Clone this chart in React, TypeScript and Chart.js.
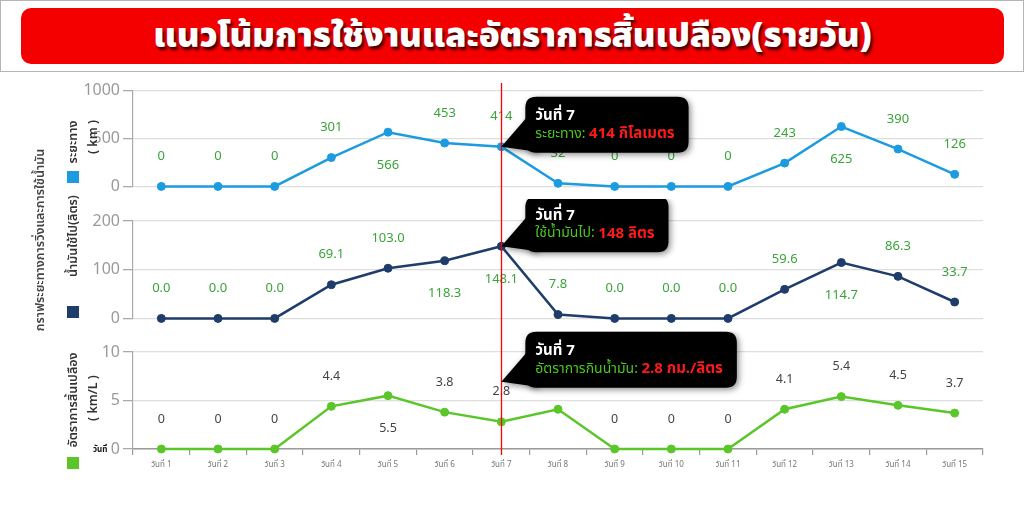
import React, { useEffect, useRef } from "react";
import { Chart, registerables } from "chart.js";

Chart.register(...registerables);

// ---------------- data ----------------
const days = [
  "วันที่ 1", "วันที่ 2", "วันที่ 3", "วันที่ 4", "วันที่ 5",
  "วันที่ 6", "วันที่ 7", "วันที่ 8", "วันที่ 9", "วันที่ 10",
  "วันที่ 11", "วันที่ 12", "วันที่ 13", "วันที่ 14", "วันที่ 15",
];
const distanceKm = [0, 0, 0, 301, 566, 453, 414, 32, 0, 0, 0, 243, 625, 390, 126];
const fuelLitres = [0, 0, 0, 69.1, 103.0, 118.3, 148.1, 7.8, 0, 0, 0, 59.6, 114.7, 86.3, 33.7];
const rateKmPerL = [0, 0, 0, 4.4, 5.5, 3.8, 2.8, 4.1, 0, 0, 0, 4.1, 5.4, 4.5, 3.7];

const distanceAxis = { min: 0, max: 1000, step: 500 };
const fuelAxis = { min: 0, max: 200, step: 100 };
const rateAxis = { min: 0, max: 10, step: 5 };

// indices whose value label sits under the point
const distanceLabelsBelow = [4, 12];
const fuelLabelsBelow = [5, 6, 12];
const rateLabelsBelow = [4];

const highlightIndex = 6; // วันที่ 7

const TITLE = "แนวโน้มการใช้งานและอัตราการสิ้นเปลือง(รายวัน)";
const SIDE_TITLE = "กราฟระยะทางการวิ่งและการใช้น้ำมัน";

const FONT = "'Noto Sans', 'Noto Sans Thai', 'DejaVu Sans', sans-serif";

type PanelCfg = {
  values: number[];
  color: string;
  axis: { min: number; max: number; step: number };
  labelColor: string;
  labelFont: string;
  format: (v: number) => string;
  below: number[];
  padTop: number;
  padBottom: number;
  showX: boolean;
  xHeight: number;
  lineTop: number;
  lineBottom: number | null;
  tipDy: number;
  tipLabel: string;
  tipValue: string;
};

function roundRect(ctx: CanvasRenderingContext2D, x: number, y: number, w: number, h: number, r: number) {
  ctx.beginPath();
  ctx.moveTo(x + r, y);
  ctx.lineTo(x + w - r, y);
  ctx.quadraticCurveTo(x + w, y, x + w, y + r);
  ctx.lineTo(x + w, y + h - r);
  ctx.quadraticCurveTo(x + w, y + h, x + w - r, y + h);
  ctx.lineTo(x + r, y + h);
  ctx.quadraticCurveTo(x, y + h, x, y + h - r);
  ctx.lineTo(x, y + r);
  ctx.quadraticCurveTo(x, y, x + r, y);
  ctx.closePath();
}

function makeOverlay(cfg: PanelCfg) {
  return {
    id: "overlay",
    afterDatasetsDraw(chart: any) {
      const ctx: CanvasRenderingContext2D = chart.ctx;
      const meta = chart.getDatasetMeta(0);
      // value labels
      ctx.save();
      ctx.font = cfg.labelFont;
      ctx.fillStyle = cfg.labelColor;
      ctx.textAlign = "center";
      ctx.textBaseline = "middle";
      meta.data.forEach((pt: any, i: number) => {
        const below = cfg.below.includes(i);
        ctx.fillText(cfg.format(cfg.values[i]), pt.x, below ? pt.y + 33 : pt.y - 30);
      });
      ctx.restore();

      // highlight line
      const hp = meta.data[highlightIndex];
      ctx.save();
      ctx.strokeStyle = "#ff0000";
      ctx.lineWidth = 1.3;
      ctx.beginPath();
      const x = Math.round(hp.x) + 0.5;
      ctx.moveTo(x, cfg.lineTop);
      ctx.lineTo(x, cfg.lineBottom === null ? chart.height : cfg.lineBottom);
      ctx.stroke();
      ctx.restore();

      // tooltip bubble
      const tipX = hp.x;
      const tipY = hp.y + cfg.tipDy;
      const left = tipX + 24;
      const top = tipY - 50;
      const titleFont = `bold 15px ${FONT}`;
      const labelFont = `14px ${FONT}`;
      const valueFont = `bold 15px ${FONT}`;
      ctx.save();
      ctx.font = titleFont;
      const wTitle = ctx.measureText(`วันที่ ${highlightIndex + 1}`).width;
      ctx.font = labelFont;
      const wLabel = ctx.measureText(cfg.tipLabel).width;
      ctx.font = valueFont;
      const wValue = ctx.measureText(cfg.tipValue).width;
      const w = Math.max(wTitle, wLabel + wValue) + 24;
      const h = 56;
      ctx.shadowColor = "rgba(0,0,0,0.45)";
      ctx.shadowBlur = 6;
      ctx.shadowOffsetX = 2;
      ctx.shadowOffsetY = 2;
      ctx.fillStyle = "#000";
      roundRect(ctx, left, top, w, h, 11);
      ctx.fill();
      ctx.beginPath();
      ctx.moveTo(tipX, tipY);
      ctx.lineTo(left + 2, top + 20);
      ctx.lineTo(left + 12, top + h - 1);
      ctx.closePath();
      ctx.fill();
      ctx.shadowColor = "transparent";
      ctx.textBaseline = "middle";
      ctx.textAlign = "left";
      ctx.font = titleFont;
      ctx.fillStyle = "#fff";
      ctx.fillText(`วันที่ ${highlightIndex + 1}`, left + 10, top + 19);
      ctx.font = labelFont;
      ctx.fillStyle = "#4cc81e";
      ctx.fillText(cfg.tipLabel, left + 10, top + 37);
      ctx.font = valueFont;
      ctx.fillStyle = "#ff1a1a";
      ctx.fillText(cfg.tipValue, left + 10 + wLabel, top + 37);
      ctx.restore();
    },
  };
}

function Panel({ cfg, top, height }: { cfg: PanelCfg; top: number; height: number }) {
  const ref = useRef<HTMLCanvasElement>(null);
  useEffect(() => {
    if (!ref.current) return;
    const chart = new Chart(ref.current, {
      type: "line",
      data: {
        labels: days,
        datasets: [
          {
            data: cfg.values,
            borderColor: cfg.color,
            backgroundColor: cfg.color,
            pointBackgroundColor: cfg.color,
            pointBorderColor: cfg.color,
            pointRadius: 4,
            pointBorderWidth: 1,
            borderWidth: 2.5,
            tension: 0,
            clip: false as any,
          },
        ],
      },
      options: {
        animation: false,
        responsive: false,
        maintainAspectRatio: false,
        events: [],
        layout: { padding: { top: cfg.padTop, bottom: cfg.padBottom, left: 0, right: 41 } },
        plugins: { legend: { display: false }, tooltip: { enabled: false } },
        scales: {
          x: {
            type: "category",
            display: cfg.showX,
            offset: true,
            grid: {
              display: true,
              offset: true,
              drawOnChartArea: false,
              drawTicks: true,
              tickLength: 6,
              color: "#9a9a9a",
              lineWidth: 1.2,
            },
            border: { display: true, color: "#9a9a9a", width: 1.6 },
            ticks: {
              autoSkip: false,
              maxRotation: 0,
              color: "#777",
              padding: 5,
              font: { size: 8, family: FONT },
            },
            afterFit: (s: any) => {
              s.height = cfg.xHeight;
            },
          },
          y: {
            min: cfg.axis.min,
            max: cfg.axis.max,
            ticks: {
              stepSize: cfg.axis.step,
              color: "#9a9a9a",
              padding: 3,
              font: { size: 16, family: FONT },
              callback: (v: any) => String(v),
            },
            grid: { color: "#dedede", tickLength: 10, tickColor: "#aaa", lineWidth: 1.3 },
            border: { display: true, color: "#aaa", width: 1.2 },
            afterFit: (s: any) => {
              s.width = 133;
            },
          },
        },
      },
      plugins: [makeOverlay(cfg)],
    });
    return () => chart.destroy();
  }, []);
  return (
    <canvas
      ref={ref}
      width={1024}
      height={height}
      style={{ position: "absolute", left: 0, top, width: 1024, height }}
    />
  );
}

const rot = (cx: number, cy: number, text: string, style: React.CSSProperties) => (
  <div
    style={{
      position: "absolute",
      left: cx,
      top: cy,
      transform: "translate(-50%, -50%) rotate(-90deg)",
      whiteSpace: "nowrap",
      fontFamily: FONT,
      lineHeight: 1,
      ...style,
    }}
  >
    {text}
  </div>
);

export default function App() {
  const distCfg: PanelCfg = {
    values: distanceKm,
    color: "#1c9be0",
    axis: distanceAxis,
    labelColor: "#3aa43a",
    labelFont: `13px ${FONT}`,
    format: (v) => String(Math.round(v)),
    below: distanceLabelsBelow,
    padTop: 0,
    padBottom: 0,
    showX: false,
    xHeight: 0,
    lineTop: 5,
    lineBottom: null,
    tipDy: 0,
    tipLabel: "ระยะทาง: ",
    tipValue: `${Math.round(distanceKm[highlightIndex])} กิโลเมตร`,
  };
  const fuelCfg: PanelCfg = {
    values: fuelLitres,
    color: "#1f3d6b",
    axis: fuelAxis,
    labelColor: "#3aa43a",
    labelFont: `13px ${FONT}`,
    format: (v) => v.toFixed(1),
    below: fuelLabelsBelow,
    padTop: 22,
    padBottom: 0,
    showX: false,
    xHeight: 0,
    lineTop: 0,
    lineBottom: null,
    tipDy: 0,
    tipLabel: "ใช้น้ำมันไป: ",
    tipValue: `${Math.round(fuelLitres[highlightIndex])} ลิตร`,
  };
  const rateCfg: PanelCfg = {
    values: rateKmPerL,
    color: "#5ac62a",
    axis: rateAxis,
    labelColor: "#444",
    labelFont: `12.5px ${FONT}`,
    format: (v) => (v === 0 ? "0" : v.toFixed(1)),
    below: rateLabelsBelow,
    padTop: 21,
    padBottom: 0,
    showX: true,
    xHeight: 56,
    lineTop: 0,
    lineBottom: 124,
    tipDy: -40,
    tipLabel: "อัตราการกินน้ำมัน: ",
    tipValue: `${rateKmPerL[highlightIndex].toFixed(1)} กม./ลิตร`,
  };

  const titleStyle: React.CSSProperties = { fontSize: 12.5, fontWeight: 600, color: "#333" };

  return (
    <div style={{ position: "absolute", left: 0, top: 0, width: 1024, height: 505, background: "#fff", overflow: "hidden" }}>
      <div
        style={{
          position: "absolute",
          left: 0,
          top: 0,
          width: 1022,
          height: 70,
          border: "1px solid #b5b5b5",
          background: "#fff",
        }}
      >
        <div
          style={{
            position: "absolute",
            left: 20,
            top: 7,
            width: 983,
            height: 56,
            background: "#f50000",
            borderRadius: 10,
            display: "flex",
            alignItems: "center",
            justifyContent: "center",
          }}
        >
          <span
            style={{
              color: "#fff",
              fontSize: 34,
              fontWeight: 900,
              fontFamily: FONT,
              textShadow: "2px 3px 3px rgba(0,0,0,0.75)",
              whiteSpace: "nowrap",
            }}
          >
            {TITLE}
          </span>
        </div>
      </div>

      <Panel cfg={distCfg} top={78} height={121} />
      <Panel cfg={fuelCfg} top={199} height={132} />
      <Panel cfg={rateCfg} top={331} height={174} />

      {rot(40, 240, SIDE_TITLE, { fontSize: 12.5, fontWeight: 600, color: "#444" })}

      {rot(73, 142, "ระยะทาง", titleStyle)}
      {rot(93, 137, "( km )", titleStyle)}
      <div style={{ position: "absolute", left: 67, top: 171, width: 12, height: 12, background: "#1c9be0" }} />

      {rot(73, 236, "น้ำมันใช้ไป(ลิตร)", titleStyle)}
      <div style={{ position: "absolute", left: 67, top: 306, width: 12, height: 12, background: "#1f3d6b" }} />

      {rot(73, 400, "อัตราการสิ้นเปลือง", titleStyle)}
      {rot(93, 398, "( km/L )", titleStyle)}
      <div style={{ position: "absolute", left: 67, top: 457, width: 12, height: 12, background: "#5ac62a" }} />

      <div
        style={{
          position: "absolute",
          left: 93,
          top: 443,
          fontSize: 8,
          fontWeight: 700,
          color: "#111",
          fontFamily: FONT,
          whiteSpace: "nowrap",
        }}
      >
        วันที่
      </div>
    </div>
  );
}
